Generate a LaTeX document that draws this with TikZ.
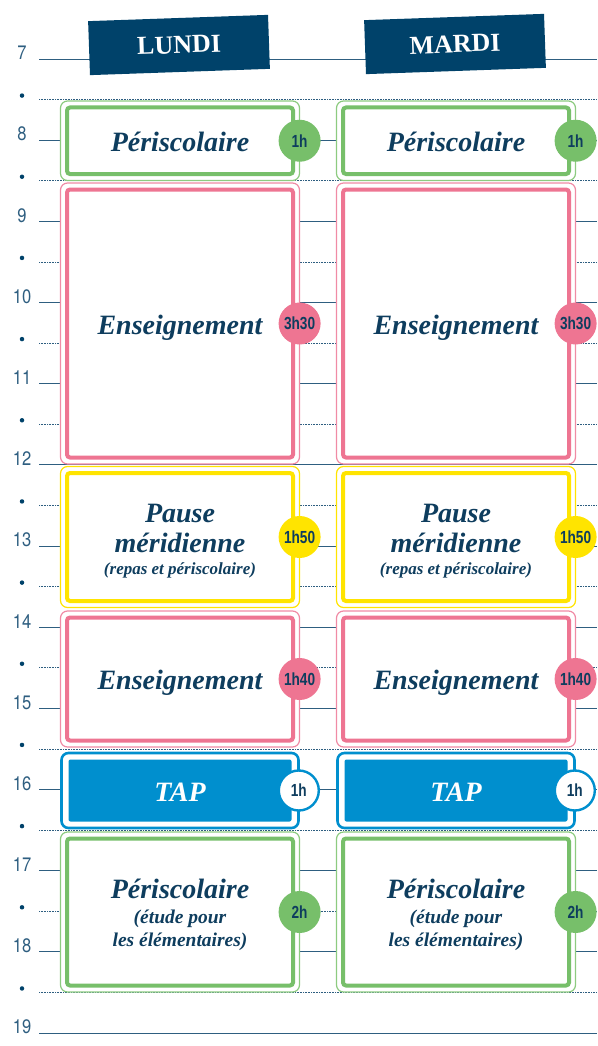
\documentclass[tikz,border=0pt]{standalone}
\usepackage{fontspec}
\setmainfont{Liberation Serif}
\newfontfamily\numf[FakeStretch=0.85]{TeX Gyre Heros}
\newfontfamily\badgef[FakeStretch=0.78]{Liberation Sans}
\definecolor{navy}{HTML}{00426A}
\definecolor{navytext}{HTML}{0E3D5E}
\definecolor{linec}{HTML}{2E5E80}
\definecolor{grn}{HTML}{77BF6A}
\definecolor{grnl}{HTML}{8DCB80}
\definecolor{pnk}{HTML}{EE7592}
\definecolor{pnkl}{HTML}{F08BA5}
\definecolor{yel}{HTML}{FFE400}
\definecolor{blu}{HTML}{008FCE}
\tikzset{
  hourline/.style={draw=linec, line width=0.9pt},
  halfline/.style={draw=linec, line width=0.6pt, dash pattern=on 0.8pt off 0.8pt},
  hourlabel/.style={text=linec, font=\numf\fontsize{19.5}{20}\selectfont, inner sep=0pt},
  halfdot/.style={circle, fill=navy, inner sep=0pt, minimum size=4.5pt},
  header/.style={fill=navy, text=white, font=\bfseries\fontsize{26}{26}\selectfont, minimum width=180pt, minimum height=54pt, rotate=2, inner sep=0pt},
  outerbox/.style={draw=#1, line width=1.2pt, fill=white, rounded corners=7pt, inner sep=0pt, minimum width=239pt},
  innerbox/.style={draw=#1, line width=4pt, rounded corners=3pt, inner sep=0pt, minimum width=226pt},
  tapouter/.style={draw=blu, line width=2.6pt, fill=white, rounded corners=7pt, inner sep=0pt, minimum width=237pt},
  tapinner/.style={fill=blu, rounded corners=2pt, inner sep=0pt, minimum width=223pt},
  badge/.style={circle, fill=#1, minimum size=42pt, inner sep=0pt, text=navytext, font=\badgef\bfseries\fontsize{17.5}{18}\selectfont},
  tapbadge/.style={circle, draw=blu, line width=2.4pt, fill=white, minimum size=40pt, inner sep=0pt, text=navytext, font=\badgef\bfseries\fontsize{17.5}{18}\selectfont},
  bigtext/.style={anchor=base, inner sep=0pt, text=navytext, font=\bfseries\itshape\fontsize{28}{30}\selectfont},
  smalltext/.style={anchor=base, inner sep=0pt, text=navytext, font=\bfseries\itshape\fontsize{17}{18}\selectfont},
  midtext/.style={anchor=base, inner sep=0pt, text=navytext, font=\bfseries\itshape\fontsize{19.5}{20}\selectfont},
}
\newcommand\mkbox[6]{%
  \node[outerbox=#6, minimum height={#4-#3}] (#1) at (#2,{(#3+#4)/2}) {};
  \node[innerbox=#5, minimum height={#4-#3-13}] (#1in) at (#1.center) {};
}
\begin{document}
\begin{tikzpicture}[x=1pt,y=-1pt]
\useasboundingbox (0,0) rectangle (597,1046);
% hour lines
\foreach \i in {0,...,12}{
  \pgfmathsetmacro\yy{59+\i*81.17}
  \pgfmathtruncatemacro\hh{7+\i}
  \coordinate (hs\i) at (39,\yy);
  \coordinate (he\i) at (597,\yy);
  \draw[hourline] (hs\i) -- (he\i);
  \node[hourlabel] (hl\i) at (22,{\yy-6}) {\hh};
}
\foreach \i in {0,...,11}{
  \pgfmathsetmacro\yy{59+(\i+0.5)*81.17}
  \coordinate (ms\i) at (39,\yy);
  \coordinate (me\i) at (597,\yy);
  \draw[halfline] (ms\i) -- (me\i);
  \node[halfdot] (hd\i) at (22,{\yy-4}) {};
}
% headers
\node[header] (lundi) at (179,45) {LUNDI};
\node[header] (mardi) at (455,44) {MARDI};
% columns
\foreach \cx/\s in {180/L,456/R}{
  % Periscolaire 1
  \mkbox{pa\s}{\cx}{101}{180.5}{grn}{grnl}
  \node[bigtext] (tpa\s) at (\cx,151.5) {Périscolaire};
  \node[badge=grn] (bpa\s) at ([xshift=-0.5pt]pa\s.east) {1h};
  % Enseignement 1
  \mkbox{ea\s}{\cx}{183}{464}{pnk}{pnkl}
  \node[bigtext] (tea\s) at (\cx,334.5) {Enseignement};
  \node[badge=pnk] (bea\s) at ([xshift=-0.5pt]ea\s.east) {3h30};
  % Pause
  \mkbox{pm\s}{\cx}{466.5}{607.5}{yel}{yel}
  \node[bigtext] (tpm\s) at (\cx,522) {Pause};
  \node[bigtext] (tpn\s) at (\cx,552) {méridienne};
  \node[smalltext] (tpr\s) at (\cx,574) {(repas et périscolaire)};
  \node[badge=yel] (bpm\s) at ([xshift=-0.5pt]pm\s.east) {1h50};
  % Enseignement 2
  \mkbox{eb\s}{\cx}{611}{747}{pnk}{pnkl}
  \node[bigtext] (teb\s) at (\cx,689.5) {Enseignement};
  \node[badge=pnk] (beb\s) at ([xshift=-0.5pt]eb\s.east) {1h40};
  % TAP
  \node[tapouter, minimum height=75pt] (tap\s) at (\cx,790.5) {};
  \node[tapinner, minimum height=62pt] (tapin\s) at (tap\s.center) {};
  \node[bigtext, text=white] (ttap\s) at (\cx,801) {TAP};
  \node[tapbadge] (btap\s) at ([xshift=-1pt]tap\s.east) {1h};
  % Periscolaire 2
  \mkbox{pb\s}{\cx}{832}{992}{grn}{grnl}
  \node[bigtext] (tpb\s) at (\cx,898) {Périscolaire};
  \node[midtext] (tpc\s) at (\cx,923) {(étude pour};
  \node[midtext] (tpd\s) at (\cx,946) {les élémentaires)};
  \node[badge=grn] (bpb\s) at ([xshift=-0.5pt]pb\s.east) {2h};
}
\end{tikzpicture}
\end{document}
